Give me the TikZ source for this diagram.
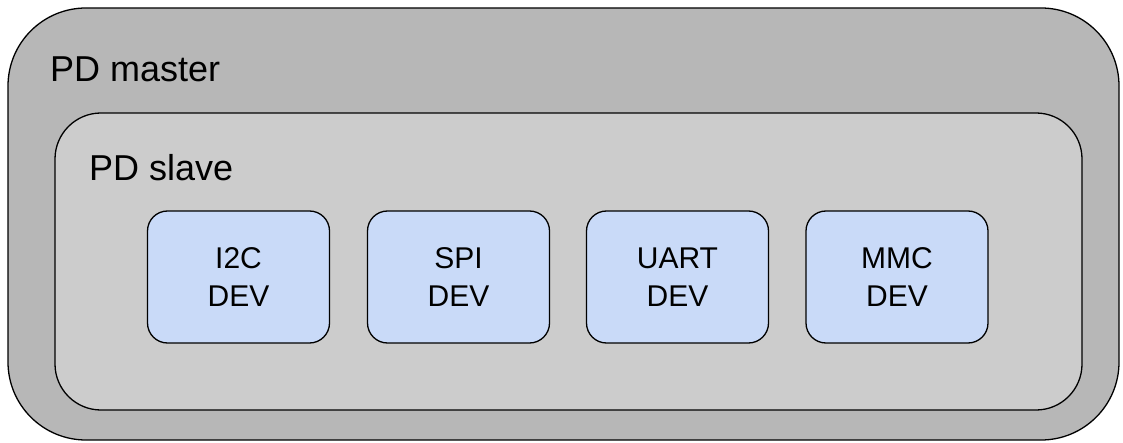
\documentclass[tikz,border=0pt]{standalone}
\usepackage{fontspec}
\setmainfont{Liberation Sans}
\begin{document}
\begin{tikzpicture}[x=1pt,y=-1pt,
  frame/.style={draw=black, line width=1.3pt},
  lbl/.style={anchor=base west, inner sep=0pt, font=\fontsize{36}{40}\selectfont},
  dev/.style={frame, fill=devblue, rounded corners=20pt, minimum width=182pt, minimum height=132pt,
    align=center, font=\fontsize{30}{38}\selectfont}]
  \definecolor{outergray}{HTML}{B7B7B7}
  \definecolor{innergray}{HTML}{CCCCCC}
  \definecolor{devblue}{HTML}{C9DAF8}
  \useasboundingbox (0,0) rectangle (1123,443);
  % power domain master
  \draw[frame, fill=outergray, rounded corners=78pt] (8,8) rectangle (1119,440);
  \node[lbl] (master) at (50,82) {PD master};
  % power domain slave
  \draw[frame, fill=innergray, rounded corners=46pt] (55,113) rectangle (1082,410);
  \node[lbl] (slave) at (89,181) {PD slave};
  % devices
  \node[dev] (i2c) at (238.5,277) {I2C\\DEV};
  \node[dev] (spi) at (458.5,277) {SPI\\DEV};
  \node[dev] (uart) at (677.5,277) {UART\\DEV};
  \node[dev] (mmc) at (897,277) {MMC\\DEV};
\end{tikzpicture}
\end{document}
